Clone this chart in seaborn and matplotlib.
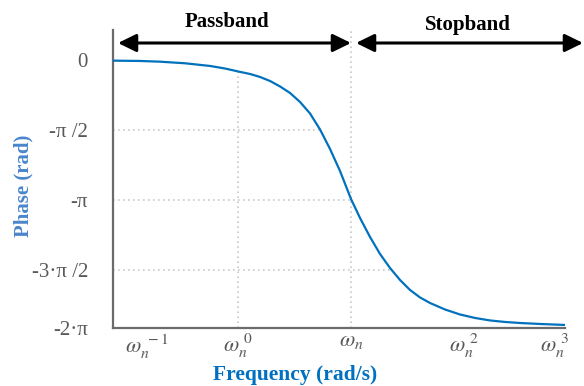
import numpy as np
import matplotlib
matplotlib.use("Agg")
import matplotlib.pyplot as plt
import seaborn as sns
from matplotlib.ticker import FixedLocator, LogLocator, NullFormatter

# ---- data (frequency in units where w_n = 10) ----
freq = [0.0783, 0.1358, 0.2040, 0.3396, 0.5651, 0.7674, 1.0206, 1.2768, 1.5653,
        1.9194, 2.3534, 2.8856, 3.5378, 4.3373, 5.3176, 6.5196, 7.9929, 10.0,
        12.013, 14.729, 18.059, 22.141, 27.144, 33.28, 40.80, 50.02, 67.90,
        92.17, 125.1, 169.9, 230.6, 313.1, 470.6, 783.1]
phase = [-0.004, -0.011, -0.027, -0.063, -0.123, -0.180, -0.251, -0.303, -0.370,
         -0.460, -0.583, -0.729, -0.931, -1.189, -1.548, -1.986, -2.480, -3.11,
         -3.534, -3.961, -4.342, -4.657, -4.926, -5.150, -5.318, -5.442, -5.588,
         -5.700, -5.778, -5.834, -5.868, -5.891, -5.913, -5.935]

x_ticks = [0.1, 1.0, 10.0, 100.0]
x_tick_labels = [r"$\omega_n^{\ -1}$", r"$\omega_n^{\ 0}$", r"$\omega_n$", r"$\omega_n^{\ 2}$"]
x_last_label = r"$\omega_n^{\ 3}$"
y_bottom = -6.003
y_ticks = [0.0, -np.pi / 2, -np.pi, -3 * np.pi / 2, y_bottom]
y_tick_labels = ["0", "-\u03c0 /2", "-\u03c0", "-3\u00b7\u03c0 /2", "-2\u00b7\u03c0"]
w_n = 10.0
band_labels = ["Passband", "Stopband"]

sns.set_style("white")
plt.rcParams["font.family"] = ["Liberation Serif", "DejaVu Serif"]
plt.rcParams["mathtext.fontset"] = "stix"

fig = plt.figure(figsize=(5.84, 3.86), dpi=100)
ax = fig.add_axes([0.1935, 0.1503, 0.7740, 0.7720])

line_color = "#0072BD"
grid_color = "#c8c8c8"
gray = "#595959"

sns.lineplot(x=freq, y=phase, ax=ax, color=line_color, lw=1.6, zorder=3)
ax.set_xscale("log")
ax.set_xlim(freq[0], freq[-1])
ax.set_ylim(y_bottom, 0.684)

# reference (drop) lines from the axes to the curve
lf = np.log10(freq)
rev_phase = np.array(phase)[::-1]
rev_lf = lf[::-1]
for yv in [-np.pi / 2, -np.pi, -3 * np.pi / 2]:
    xe = 10 ** np.interp(yv, rev_phase, rev_lf)
    ax.plot([freq[0], xe], [yv, yv], ls=(0, (1, 2)), color=grid_color, lw=1.2, zorder=1)
yc = np.interp(0.0, lf, phase)
ax.plot([1.0, 1.0], [y_bottom, yc], ls=(0, (1, 2)), color=grid_color, lw=1.2, zorder=1)
ax.plot([w_n, w_n], [y_bottom, 0.684], ls=(0, (1, 2)), color=grid_color, lw=1.2, zorder=1)

# spines
for s in ["top", "right"]:
    ax.spines[s].set_visible(False)
for s in ["left", "bottom"]:
    ax.spines[s].set_color("#6b6b6b")
    ax.spines[s].set_linewidth(1.6)

# ticks
ax.xaxis.set_major_locator(FixedLocator(x_ticks))
ax.set_xticklabels(x_tick_labels)
ax.xaxis.set_minor_locator(LogLocator(base=10, subs=np.arange(2, 10)))
ax.xaxis.set_minor_formatter(NullFormatter())
ax.tick_params(axis="x", which="major", direction="in", length=5, width=1.2,
               color="#6b6b6b", labelsize=16, labelcolor=gray, pad=3)
ax.tick_params(axis="x", which="minor", direction="in", length=3, width=1.0,
               color="#6b6b6b")
ax.get_xticklabels()[0].set_horizontalalignment("left")
ax.annotate(x_last_label, xy=(1.0, 0.0), xycoords="axes fraction",
            xytext=(3, -3), textcoords="offset points", ha="right", va="top",
            fontsize=16, color=gray)

ax.set_yticks(y_ticks)
ax.set_yticklabels(y_tick_labels)
ax.tick_params(axis="y", length=0, labelsize=15, labelcolor=gray, pad=18)
ax.grid(False)

# axis labels
ax.set_xlabel("Frequency (rad/s)", fontsize=15.5, fontweight="bold", color="#0070C0")
ax.xaxis.set_label_coords(0.403, -0.125)
ax.set_ylabel("Phase (rad)", fontsize=15, fontweight="bold", color="#4a86cc")
ax.yaxis.set_label_coords(-0.175, 0.4765)

# passband / stopband arrows
W, H = 584.0, 386.0
ay = 1 - 43 / H
style = "<|-|>,head_length=0.55,head_width=0.27"
fig.add_artist(matplotlib.patches.FancyArrowPatch(
    (118 / W, ay), (351 / W, ay), transform=fig.transFigure, arrowstyle=style,
    mutation_scale=20, lw=2.2, color="black", shrinkA=0, shrinkB=0))
fig.add_artist(matplotlib.patches.FancyArrowPatch(
    (356 / W, ay), (583 / W, ay), transform=fig.transFigure, arrowstyle=style,
    mutation_scale=20, lw=2.2, color="black", shrinkA=0, shrinkB=0))
fig.text(227 / W, 1 - 22 / H, band_labels[0], ha="center", va="center",
         fontsize=15, fontweight="bold", color="black")
fig.text(468 / W, 1 - 25 / H, band_labels[1], ha="center", va="center",
         fontsize=15, fontweight="bold", color="black")

fig.savefig("out.png", dpi=100)
